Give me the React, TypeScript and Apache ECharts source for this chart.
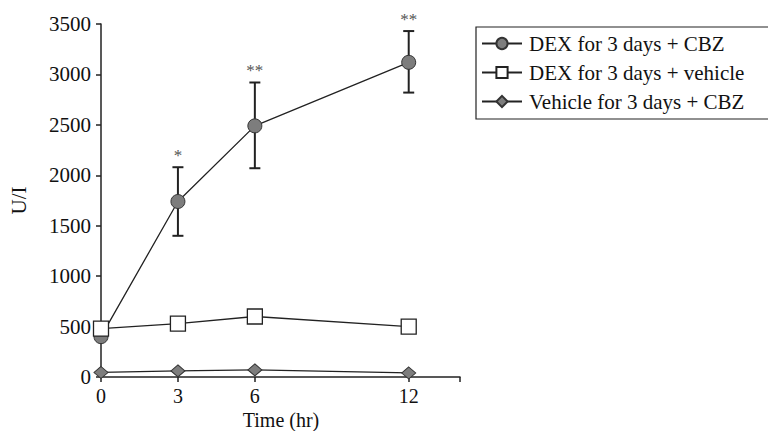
import React, { useEffect, useRef } from "react";
import * as echarts from "echarts";

const times = [0, 3, 6, 12];
const dexCbz = [400, 1740, 2490, 3120];
const dexCbzLow = [400, 1400, 2070, 2820];
const dexCbzHigh = [400, 2080, 2920, 3430];
const dexCbzStars = ["", "*", "**", "**"];
const dexVehicle = [480, 530, 600, 500];
const vehicleCbz = [45, 60, 70, 40];
const xTickValues = [0, 3, 6, 12, 14];
const xLabelValues = [0, 3, 6, 12];
const seriesNames = ["DEX for 3 days + CBZ", "DEX for 3 days + vehicle", "Vehicle for 3 days + CBZ"];
const xAxisName = "Time (hr)";

const FONT = "'Liberation Serif', 'Times New Roman', serif";

export default function App() {
  const ref = useRef<HTMLDivElement>(null);
  useEffect(() => {
    if (!ref.current) return;
    const chart = echarts.init(ref.current, null, { renderer: "svg" });
    const errData = times.map((t, i) => [t, dexCbzLow[i], dexCbzHigh[i], dexCbzStars[i]]);
    chart.setOption({
      animation: false,
      backgroundColor: "#fff",
      textStyle: { fontFamily: FONT },
      grid: { left: 101, right: 308, top: 24, bottom: 54, outerBoundsMode: "none", containLabel: false },
      graphic: [
        {
          type: "text",
          x: 281,
          y: 420,
          style: {
            text: xAxisName,
            fontFamily: FONT,
            fontSize: 20,
            fill: "#111",
            align: "center",
            verticalAlign: "middle",
          },
        },
      ],
      legend: {
        orient: "vertical",
        left: 476,
        top: 27,
        padding: [6, 34, 7, 5],
        itemGap: 8,
        itemWidth: 40,
        itemHeight: 14,
        borderColor: "#222",
        borderWidth: 1.2,
        textStyle: { fontFamily: FONT, fontSize: 21, color: "#111", padding: [0, 0, 0, 2] },
        data: seriesNames,
      },
      xAxis: {
        type: "value",
        min: 0,
        max: 14,
        splitLine: { show: false },
        axisLine: { show: true, lineStyle: { color: "#222", width: 1.5 } },
        axisTick: { show: true, length: 5, lineStyle: { color: "#222", width: 1.5 }, customValues: xTickValues },
        axisLabel: { fontFamily: FONT, fontSize: 20, color: "#111", margin: 9, customValues: xLabelValues },
      },
      yAxis: {
        type: "value",
        min: 0,
        max: 3500,
        interval: 500,
        name: "U/I",
        nameLocation: "middle",
        nameGap: 72,
        nameRotate: 90,
        nameTextStyle: { fontFamily: FONT, fontSize: 21, color: "#111" },
        splitLine: { show: false },
        axisLine: { show: true, lineStyle: { color: "#222", width: 1.5 } },
        axisTick: { show: true, length: 5, lineStyle: { color: "#222", width: 1.5 } },
        axisLabel: {
          fontFamily: FONT,
          fontSize: 21,
          color: "#111",
          margin: 10,
          formatter: (v: number) => String(v),
        },
      },
      series: [
        {
          name: seriesNames[0],
          type: "line",
          data: times.map((t, i) => [t, dexCbz[i]]),
          symbol: "circle",
          symbolSize: 14,
          lineStyle: { color: "#222", width: 1.3 },
          itemStyle: { color: "#7d7d7d", borderColor: "#333", borderWidth: 1 },
          z: 3,
        },
        {
          name: seriesNames[1],
          type: "line",
          data: times.map((t, i) => [t, dexVehicle[i]]),
          symbol: "rect",
          symbolSize: 15,
          lineStyle: { color: "#222", width: 1.3 },
          itemStyle: { color: "#fff", borderColor: "#222", borderWidth: 1.3 },
          z: 4,
        },
        {
          name: seriesNames[2],
          type: "line",
          data: times.map((t, i) => [t, vehicleCbz[i]]),
          symbol: "diamond",
          symbolSize: [14, 12],
          lineStyle: { color: "#222", width: 1.3 },
          itemStyle: { color: "#7d7d7d", borderColor: "#333", borderWidth: 1 },
          z: 3,
        },
        {
          type: "custom",
          data: errData,
          z: 2,
          itemStyle: { color: "#555" },
          renderItem: (params: any, api: any) => {
            const x = api.value(0);
            const lo = api.coord([x, api.value(1)]);
            const hi = api.coord([x, api.value(2)]);
            const star = errData[params.dataIndex][3] as string;
            const w = 5.5;
            const style = { stroke: "#222", lineWidth: 2 };
            return {
              type: "group",
              children: [
                { type: "line", shape: { x1: lo[0], y1: lo[1], x2: hi[0], y2: hi[1] }, style },
                { type: "line", shape: { x1: hi[0] - w, y1: hi[1], x2: hi[0] + w, y2: hi[1] }, style },
                { type: "line", shape: { x1: lo[0] - w, y1: lo[1], x2: lo[0] + w, y2: lo[1] }, style },
                {
                  type: "text",
                  x: hi[0],
                  y: hi[1] - 3,
                  style: {
                    text: star,
                    fontFamily: FONT,
                    fontSize: 17,
                    fill: "#555",
                    align: "center",
                    verticalAlign: "bottom",
                  },
                },
              ],
            };
          },
        },
      ],
    });
    return () => chart.dispose();
  }, []);
  return <div ref={ref} style={{ width: 768, height: 431, position: "absolute", left: 0, top: 0 }} />;
}
